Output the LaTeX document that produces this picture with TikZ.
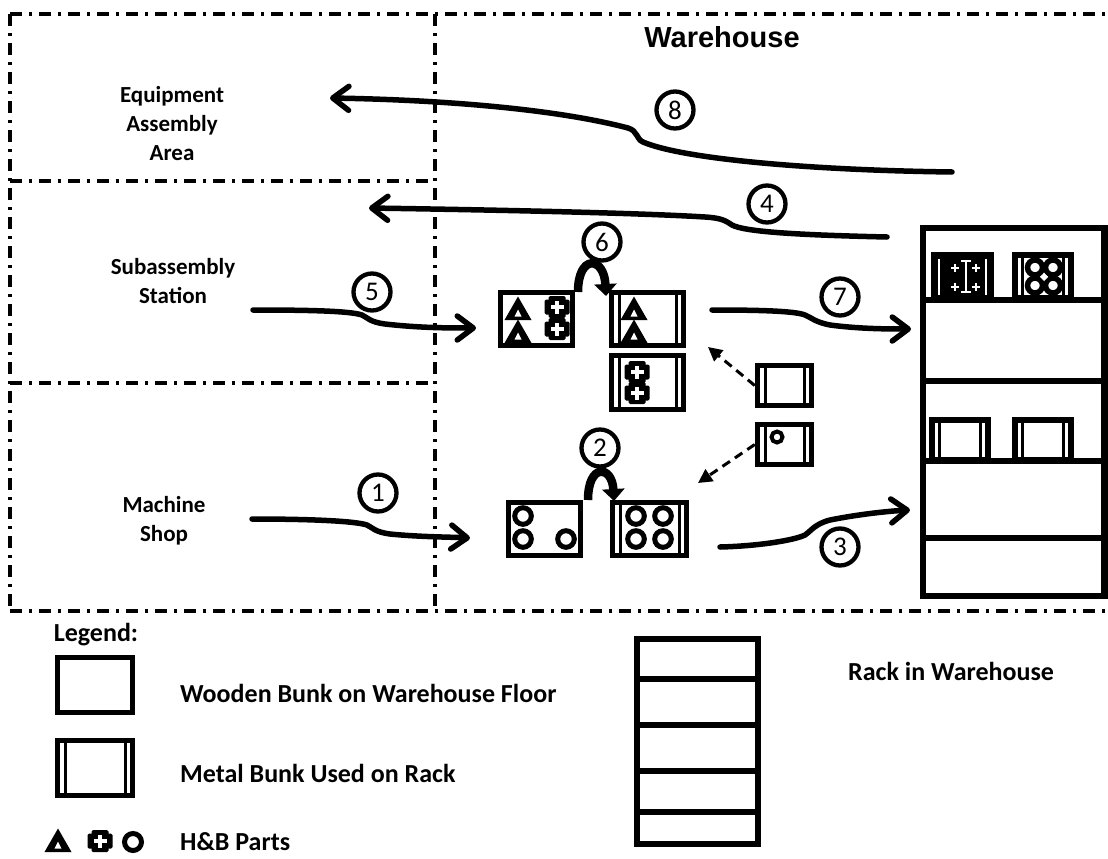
\documentclass[tikz,border=0pt]{standalone}
\usepackage{fontspec}
\setmainfont{Carlito}
\newfontfamily\whfont{Liberation Sans}
\usetikzlibrary{arrows.meta}
\begin{document}
\begin{tikzpicture}[x=1pt,y=-1pt,
 zone/.style={line width=3.3pt, dash pattern=on 12pt off 7pt on 3pt off 7pt},
 lbl/.style={font=\fontsize{23}{29}\selectfont\bfseries, align=center, inner sep=0pt},
 legtxt/.style={font=\fontsize{26}{30}\selectfont\bfseries, inner sep=0pt, anchor=base west},
 num/.style={circle, draw, line width=4.3pt, minimum size=37pt, inner sep=0pt, font=\fontsize{27}{27}\selectfont},
 wood/.style={draw, rectangle, line width=5.5pt, inner sep=0pt},
 metal/.style={wood, path picture={
   \draw[line width=3pt] ([xshift=7.5pt]path picture bounding box.north west) -- ([xshift=7.5pt]path picture bounding box.south west);
   \draw[line width=3pt] ([xshift=-7.5pt]path picture bounding box.north east) -- ([xshift=-7.5pt]path picture bounding box.south east);}},
 flow/.style={line width=5.5pt, line cap=round, -{Straight Barb[length=16pt,width=24pt,round]}},
 hookarrow/.style={line width=8.5pt, -{Triangle[length=12pt,width=22pt]}},
 dasharrow/.style={line width=3pt, dash pattern=on 9pt off 6pt, -{Triangle[length=14pt,width=14pt]}},
 rackline/.style={line width=6.5pt},
 tri/.pic={\fill (-13.5,11) -- (13.5,11) -- (0,-12.5) -- cycle; \fill[white] (-3.5,7.5) -- (3.5,7.5) -- (0,0.5) -- cycle;},
 crs/.pic={\fill[rounded corners=1.5pt] (-12.5,-7.5) rectangle (12.5,7.5); \fill[rounded corners=1.5pt] (-8.5,-11) rectangle (8.5,11);
   \fill[white] (-6.5,-2) rectangle (6.5,2); \fill[white] (-2,-6.5) rectangle (2,6.5);},
 ring/.pic={\draw[line width=5pt] (0,0) circle[radius=8.3];},
 wplus/.pic={\draw[white, line width=1.4pt] (-4,0) -- (4,0) (0,-4) -- (0,4);},
]
\path[use as bounding box, fill=white] (0,0) rectangle (1108,859);

% zones
\draw[zone] (10,14) -- (1108,14);
\draw[zone] (10,14) -- (10,611);
\draw[zone] (10,611) -- (1108,611);
\draw[zone] (10,181) -- (435,181);
\draw[zone] (10,383) -- (435,383);
\draw[zone] (435,14) -- (435,611);

% labels
\node[lbl] (ea) at (172,124) {Equipment\\Assembly\\Area};
\node[lbl] (ss) at (173,281) {Subassembly\\Station};
\node[lbl] (ms) at (164,521) {Machine\\Shop};
\node[font=\whfont\fontsize{29}{29}\selectfont\bfseries, inner sep=0pt] (wh) at (722,37) {Warehouse};

% numbers
\node[num] (n8) at (675,110) {8};
\node[num] (n4) at (767,204) {4};
\node[num] (n6) at (602,242) {6};
\node[num] (n5) at (372,292) {5};
\node[num] (n7) at (840,297) {7};
\node[num] (n2) at (600,448) {2};
\node[num] (n1) at (378,493) {1};
\node[num] (n3) at (840,547) {3};

% bunks
\node[wood, minimum width=72, minimum height=53] (b1) at (536.5,319) {};
\node[metal, minimum width=72, minimum height=53] (b2) at (647.5,319) {};
\node[metal, minimum width=72, minimum height=54] (b3) at (647.5,382.5) {};
\node[wood, minimum width=72, minimum height=53] (b4) at (544.5,529) {};
\node[metal, minimum width=74, minimum height=53] (b5) at (649.5,529) {};
\node[metal, minimum width=54, minimum height=40] (s1) at (784.5,385.5) {};
\node[metal, minimum width=54, minimum height=40] (s2) at (784.5,444.5) {};

% parts in bunks
\pic at (518,309) {tri}; \pic at (518,332) {tri};
\pic at (557,307) {crs}; \pic at (557,329) {crs};
\pic at (634,309) {tri}; \pic at (634,332) {tri};
\pic at (637,372) {crs}; \pic at (637,393) {crs};
\pic at (523,516) {ring}; \pic at (523,539) {ring}; \pic at (566,539) {ring};
\pic at (636,516) {ring}; \pic at (663,516) {ring}; \pic at (636,539) {ring}; \pic at (663,539) {ring};
\draw[line width=4pt] (777,437) circle[radius=5.5];

% rack
\node[draw, rectangle, rackline, minimum width=181.5, minimum height=368, inner sep=0pt] (rack) at (1013.75,412) {};
\draw[rackline] (923,300) -- (1104.5,300);
\draw[rackline] (923,381) -- (1104.5,381);
\draw[rackline] (923,461) -- (1104.5,461);
\draw[rackline] (923,538) -- (1104.5,538);
\node[wood, fill=black, minimum width=57, minimum height=43] (r1) at (962.5,276.5) {};
\draw[white, line width=1.4pt] (939,259) -- (939,295) (986,259) -- (986,295);
\pic at (955,268) {wplus}; \pic at (976,268) {wplus}; \pic at (955,287) {wplus}; \pic at (976,287) {wplus};
\draw[white, line width=2.5pt] (966,261) -- (966,292) (961,261) -- (971,261) (961,292) -- (971,292);
\node[metal, minimum width=56, minimum height=43] (r2) at (1043,276.5) {};
\foreach \cx/\cy in {1035/267.5,1053/267.5,1035/285.5,1053/285.5}
  \draw[line width=5.5pt] (\cx,\cy) circle[radius=7.5];
\fill[white] (1044,273) -- (1048,277) -- (1044,281) -- (1040,277) -- cycle;
\node[metal, minimum width=56, minimum height=40] (r3) at (960,440) {};
\node[metal, minimum width=56, minimum height=40] (r4) at (1043,440) {};

% flows
\coordinate (t8) at (952,172); \coordinate (h8) at (330,98);
\draw[flow] (t8) .. controls (800,170) and (680,158) .. (643,142) .. controls (636,139) and (638,131) .. (628,128) .. controls (560,110) and (450,100) .. (h8);
\coordinate (t4) at (887,237); \coordinate (h4) at (369,208);
\draw[flow] (t4) .. controls (800,235) and (745,232) .. (732,225) .. controls (726,221) and (722,218) .. (705,217) .. controls (640,213) and (500,210) .. (h4);
\coordinate (t5) at (253,310); \coordinate (h5) at (476,328);
\draw[flow] (t5) .. controls (310,310) and (350,311) .. (362,315) .. controls (368,318) and (370,322) .. (385,324) .. controls (420,328) and (450,328) .. (h5);
\coordinate (t1) at (252,519); \coordinate (h1) at (470,538);
\draw[flow] (t1) .. controls (310,519) and (355,521) .. (367,525) .. controls (373,528) and (375,532) .. (390,534) .. controls (420,537) and (450,537) .. (h1);
\coordinate (t7) at (712,310); \coordinate (h7) at (911,329);
\draw[flow] (t7) .. controls (760,310) and (795,311) .. (805,315) .. controls (812,318) and (815,322) .. (830,325) .. controls (860,329) and (890,329) .. (h7);
\coordinate (t3) at (720,547); \coordinate (h3) at (910,510);
\draw[flow] (t3) .. controls (760,546) and (795,540) .. (805,535) .. controls (812,530) and (815,524) .. (830,520) .. controls (860,514) and (890,511) .. (h3);

% hooks
\draw[hookarrow] (578,292) .. controls (578,254) and (604,256) .. (606,296);
\draw[hookarrow] (588,500) .. controls (588,463) and (612,465) .. (614,501);

% dashed
\coordinate (d1) at (708,347); \coordinate (d2) at (698,483);
\draw[dasharrow] (s1.west) -- (d1);
\draw[dasharrow] (s2.west) -- (d2);

% legend
\node[font=\fontsize{26}{30}\selectfont\bfseries, inner sep=0pt, anchor=base] (lg) at (96,641) {Legend:};
\node[wood, minimum width=75, minimum height=55] (lw) at (95,685) {};
\node[legtxt] (lwt) at (180,702) {Wooden Bunk on Warehouse Floor};
\node[metal, minimum width=75, minimum height=55] (lm) at (95,768) {};
\node[legtxt] (lmt) at (180,782) {Metal Bunk Used on Rack};
\pic at (58,841) {tri};
\pic at (100,841) {crs};
\draw[line width=5pt] (133,842) circle[radius=8.5];
\node[legtxt] (lpt) at (180,850) {H\&B Parts};
\node[draw, rectangle, rackline, minimum width=121, minimum height=205, inner sep=0pt] (lr) at (697.5,741.5) {};
\draw[rackline] (637,679) -- (758,679);
\draw[rackline] (637,725) -- (758,725);
\draw[rackline] (637,771) -- (758,771);
\draw[rackline] (637,812) -- (758,812);
\node[legtxt] (lrt) at (848,680) {Rack in Warehouse};
\end{tikzpicture}
\end{document}
